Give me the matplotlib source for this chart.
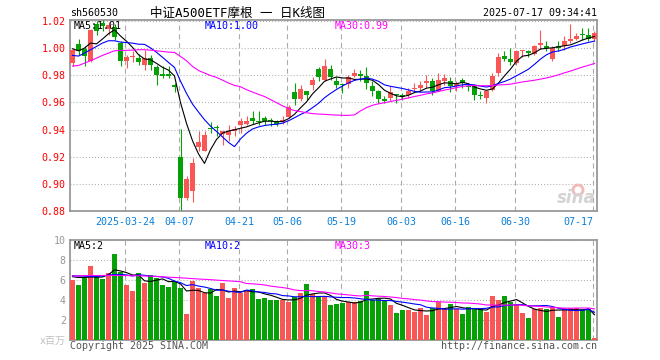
import matplotlib
matplotlib.use('Agg')
import matplotlib.pyplot as plt
from matplotlib.patches import Ellipse
import numpy as np
import pandas as pd

plt.rcParams['lines.scale_dashes'] = False
MONO = ['DejaVu Sans Mono', 'Noto Sans CJK SC']

# daily OHLC, 中证A500ETF摩根 (sh560530)
opens = [0.9890, 1.0030, 0.9991, 0.9907, 1.0178, 1.0185, 1.0141, 1.0156, 1.0038, 0.9903,
         0.9933, 0.9927, 0.9878, 0.9927, 0.9858, 0.9809, 0.9809, 0.9726, 0.9195, 0.8895,
         0.8949, 0.9269, 0.9244, 0.9410, 0.9415, 0.9367, 0.9362, 0.9387, 0.9431, 0.9441,
         0.9485, 0.9463, 0.9485, 0.9468, 0.9460, 0.9453, 0.9490, 0.9677, 0.9627, 0.9686,
         0.9731, 0.9849, 0.9768, 0.9849, 0.9760, 0.9736, 0.9736, 0.9792, 0.9809, 0.9792,
         0.9718, 0.9681, 0.9627, 0.9632, 0.9657, 0.9657, 0.9652, 0.9701, 0.9706, 0.9743,
         0.9760, 0.9686, 0.9760, 0.9755, 0.9718, 0.9768, 0.9718, 0.9731, 0.9654, 0.9632,
         0.9694, 0.9817, 0.9939, 0.9922, 0.9890, 0.9979, 0.9976, 0.9957, 1.0021, 1.0013,
         0.9922, 1.0013, 1.0013, 1.0055, 1.0070, 1.0099, 1.0099, 1.0070]
highs = [0.9996, 1.0070, 1.0013, 1.0140, 1.0200, 1.0207, 1.0193, 1.0178, 1.0050, 0.9947,
         0.9977, 0.9957, 0.9989, 0.9952, 0.9878, 0.9866, 0.9866, 0.9743, 0.9404, 0.9055,
         0.9190, 0.9387, 0.9392, 0.9456, 0.9431, 0.9392, 0.9436, 0.9424, 0.9485, 0.9497,
         0.9534, 0.9534, 0.9497, 0.9485, 0.9473, 0.9497, 0.9578, 0.9743, 0.9731, 0.9688,
         0.9785, 0.9858, 0.9922, 0.9878, 0.9785, 0.9743, 0.9804, 0.9849, 0.9841, 0.9858,
         0.9755, 0.9694, 0.9645, 0.9718, 0.9662, 0.9669, 0.9706, 0.9743, 0.9760, 0.9799,
         0.9780, 0.9817, 0.9809, 0.9785, 0.9755, 0.9780, 0.9745, 0.9736, 0.9681, 0.9694,
         0.9817, 0.9964, 0.9981, 1.0001, 0.9989, 0.9989, 0.9989, 1.0025, 1.0136, 1.0050,
         1.0013, 1.0055, 1.0087, 1.0178, 1.0111, 1.0148, 1.0148, 1.0128]
lows = [0.9866, 0.9947, 0.9866, 0.9900, 1.0097, 1.0126, 1.0097, 1.0060, 0.9866, 0.9854,
        0.9898, 0.9878, 0.9841, 0.9841, 0.9731, 0.9780, 0.9780, 0.9677, 0.8809, 0.8883,
        0.8863, 0.9240, 0.9240, 0.9374, 0.9350, 0.9288, 0.9313, 0.9350, 0.9374, 0.9431,
        0.9441, 0.9436, 0.9436, 0.9424, 0.9424, 0.9441, 0.9485, 0.9578, 0.9608, 0.9620,
        0.9694, 0.9760, 0.9760, 0.9768, 0.9706, 0.9669, 0.9706, 0.9785, 0.9760, 0.9701,
        0.9645, 0.9595, 0.9595, 0.9608, 0.9595, 0.9620, 0.9632, 0.9686, 0.9681, 0.9706,
        0.9652, 0.9681, 0.9731, 0.9677, 0.9686, 0.9706, 0.9681, 0.9620, 0.9627, 0.9595,
        0.9681, 0.9792, 0.9903, 0.9878, 0.9878, 0.9932, 0.9932, 0.9947, 0.9996, 0.9976,
        0.9903, 0.9976, 0.9989, 1.0038, 1.0062, 1.0062, 1.0050, 1.0055]
closes = [0.9984, 0.9976, 0.9939, 1.0136, 1.0126, 1.0163, 1.0171, 1.0082, 0.9908, 0.9933,
          0.9940, 0.9898, 0.9927, 0.9878, 0.9799, 0.9794, 0.9794, 0.9713, 0.8895, 0.9035,
          0.9153, 0.9308, 0.9362, 0.9403, 0.9410, 0.9387, 0.9387, 0.9406, 0.9460, 0.9460,
          0.9465, 0.9458, 0.9465, 0.9463, 0.9441, 0.9470, 0.9564, 0.9627, 0.9701, 0.9657,
          0.9768, 0.9785, 0.9871, 0.9785, 0.9731, 0.9731, 0.9785, 0.9817, 0.9792, 0.9743,
          0.9681, 0.9627, 0.9608, 0.9677, 0.9652, 0.9650, 0.9681, 0.9706, 0.9731, 0.9760,
          0.9686, 0.9768, 0.9780, 0.9718, 0.9736, 0.9743, 0.9713, 0.9657, 0.9650, 0.9686,
          0.9792, 0.9932, 0.9922, 0.9898, 0.9976, 0.9981, 0.9962, 1.0013, 1.0038, 1.0001,
          1.0001, 1.0001, 1.0050, 1.0070, 1.0087, 1.0096, 1.0070, 1.0111]
# volume, millions
volumes = [6.0, 5.5, 6.17, 7.4, 6.33, 6.1, 6.67, 8.6, 6.83, 5.5,
           4.9, 6.7, 5.67, 6.5, 6.17, 5.5, 5.33, 5.83, 5.23, 2.6,
           5.9, 5.23, 4.67, 5.07, 4.4, 5.67, 4.17, 5.17, 4.67, 5.0,
           5.1, 4.1, 4.2, 4.0, 4.0, 4.0, 3.83, 4.27, 4.73, 5.6,
           4.6, 4.27, 4.33, 3.5, 3.6, 3.73, 3.83, 3.83, 3.93, 4.9,
           4.0, 4.17, 3.93, 3.5, 2.73, 3.0, 3.0, 2.83, 3.17, 2.5,
           3.17, 3.83, 3.07, 3.6, 3.07, 2.6, 3.33, 3.1, 3.1, 2.83,
           4.4, 4.0, 4.4, 3.83, 3.6, 2.73, 2.23, 3.07, 3.17, 3.07,
           3.33, 2.33, 3.17, 3.17, 3.17, 3.07, 3.07, 0.17]

# MA values before the window has enough days
ma5_head = [0.9996, 0.9981, 1.0001, 1.0038]
ma10_head = [0.9947, 0.9942, 0.9964, 0.9989, 1.0013, 1.0038, 1.0055, 1.0055, 1.0045]
ma30_head = [0.9868, 0.9873, 0.9890, 0.9908, 0.9927, 0.9947, 0.9964, 0.9981, 0.9984, 0.9984,
             0.9986, 0.9989, 0.9989, 0.9986, 0.9981, 0.9976, 0.9971, 0.9969, 0.9939, 0.9908,
             0.9866, 0.9836, 0.9817, 0.9799, 0.9785, 0.9765, 0.9743, 0.9726, 0.9716]
vma5_head = [6.33, 6.25, 6.25, 6.3]
vma10_head = [6.43, 6.40, 6.38, 6.35, 6.35, 6.40, 6.50, 6.55, 6.55]
vma30_head = [6.40, 6.42, 6.44, 6.45, 6.45, 6.45, 6.46, 6.46, 6.45, 6.44,
              6.43, 6.42, 6.40, 6.38, 6.35, 6.32, 6.28, 6.25, 6.22, 6.18,
              6.14, 6.10, 6.07, 6.03, 5.99, 5.95, 5.91, 5.87, 5.83]

date_idx = [9, 18, 28, 36, 45, 55, 64, 74, 87]
date_labels = ['2025-03-24', '04-07', '04-21', '05-06', '05-19', '06-03', '06-16', '06-30', '07-17']
price_ticks = [0.88, 0.90, 0.92, 0.94, 0.96, 0.98, 1.00, 1.02]
vol_ticks = [0, 2, 4, 6, 8, 10]
vol_labels = ['x百万', '2', '4', '6', '8', '10']

RED = '#f95656'
GREEN = '#06a106'
GRID = '#ababab'


def moving_avg(values, n, head):
    s = pd.Series(values).rolling(n).mean().values
    s[:len(head)] = head
    return s


def px(x, y):
    return x / 660, 1 - y / 360


fig = plt.figure(figsize=(6.6, 3.6), dpi=100)
fig.patch.set_facecolor('white')
ax = fig.add_axes([70 / 660, 1 - 211 / 360, 527 / 660, 191 / 360])
axv = fig.add_axes([70 / 660, 1 - 340 / 360, 527 / 660, 100 / 360])

idx = np.arange(len(closes))
o = np.array(opens)
c = np.array(closes)
colors = np.where(c >= o, RED, GREEN)

# candles
ax.vlines(idx, lows, highs, colors=colors, linewidth=0.8, zorder=3)
body = np.maximum(np.abs(c - o), 0.0008)
ax.bar(idx, body, bottom=np.minimum(o, c), width=0.8, color=colors, linewidth=0, zorder=3)

ax.plot(idx, moving_avg(closes, 5, ma5_head), color='black', lw=0.8, zorder=4)
ax.plot(idx, moving_avg(closes, 10, ma10_head), color='#0000ff', lw=0.8, zorder=4)
ax.plot(idx, moving_avg(closes, 30, ma30_head), color='#ff00ff', lw=0.8, zorder=4)

# volume
axv.bar(idx, volumes, width=0.8, color=colors, linewidth=0, zorder=3)
axv.plot(idx, moving_avg(volumes, 5, vma5_head), color='black', lw=0.8, zorder=4)
axv.plot(idx, moving_avg(volumes, 10, vma10_head), color='#0000ff', lw=0.8, zorder=4)
axv.plot(idx, moving_avg(volumes, 30, vma30_head), color='#ff00ff', lw=0.8, zorder=4)

xpos = [d - 0.25 for d in date_idx]
for a in (ax, axv):
    a.set_xlim(-0.417, 87.417)
    a.set_xticks(xpos)
    a.grid(axis='x', color=GRID, lw=0.8, linestyle=(0, (3.6, 2.6)), zorder=1)
    a.grid(axis='y', color=GRID, lw=0.8, linestyle=(0, (0.7, 1.5)), zorder=1)
    for sp in a.spines.values():
        sp.set_color('#999999')
        sp.set_linewidth(1.3)
    a.tick_params(length=0)

ax.set_ylim(0.88, 1.0208)
ax.set_yticks(price_ticks)
ax.set_yticklabels([f'{t:.2f}' for t in price_ticks], color='#ff0000',
                   fontsize=7.2, family=MONO)
ax.tick_params(axis='y', pad=3)
ax.set_xticklabels(date_labels, color='#0a7fd8', fontsize=7.2, family=MONO)
ax.tick_params(axis='x', pad=4)
ax.get_xticklabels()[-1].set_ha('right')

axv.set_ylim(0, 10)
axv.set_yticks(vol_ticks)
axv.set_yticklabels(vol_labels, color='#999999', fontsize=7.2, family=MONO)
axv.get_yticklabels()[0].set_color('#c0c0c0')
axv.tick_params(axis='y', pad=3)
axv.set_xticklabels([])

# header and legends
fig.text(*px(70, 13), 'sh560530', fontsize=7.2, family=MONO, va='center', ha='left')
fig.text(*px(237, 13), '中证A500ETF摩根 一 日K线图', fontsize=9, family=MONO,
         va='center', ha='center')
fig.text(*px(597, 13), '2025-07-17 09:34:41', fontsize=7.2, family=MONO, va='center', ha='right')

fig.text(*px(74, 26), 'MA5:1.01', fontsize=7.2, family=MONO, va='center', color='black')
fig.text(*px(205, 26), 'MA10:1.00', fontsize=7.2, family=MONO, va='center', color='#0000ff')
fig.text(*px(335, 26), 'MA30:0.99', fontsize=7.2, family=MONO, va='center', color='#ff00ff')
fig.text(*px(74, 246), 'MA5:2', fontsize=7.2, family=MONO, va='center', color='black')
fig.text(*px(205, 246), 'MA10:2', fontsize=7.2, family=MONO, va='center', color='#0000ff')
fig.text(*px(335, 246), 'MA30:3', fontsize=7.2, family=MONO, va='center', color='#ff00ff')

fig.text(*px(70, 346), 'Copyright 2025 SINA.COM', fontsize=7.2, family=MONO,
         va='center', ha='left', color='#555555')
fig.text(*px(597, 346), 'http://finance.sina.com.cn', fontsize=7.2, family=MONO,
         va='center', ha='right', color='#555555')

# sina watermark
fig.patches.append(Ellipse(px(578, 190), 10 / 660, 10 / 360, transform=fig.transFigure,
                           facecolor='none', edgecolor='#f3b8b8', lw=2))
fig.text(*px(596, 198), 'sina', fontsize=12, style='italic', weight='bold',
         color='#d4d4d4', ha='right', va='center')

fig.savefig('out.png', dpi=100, facecolor='white')
